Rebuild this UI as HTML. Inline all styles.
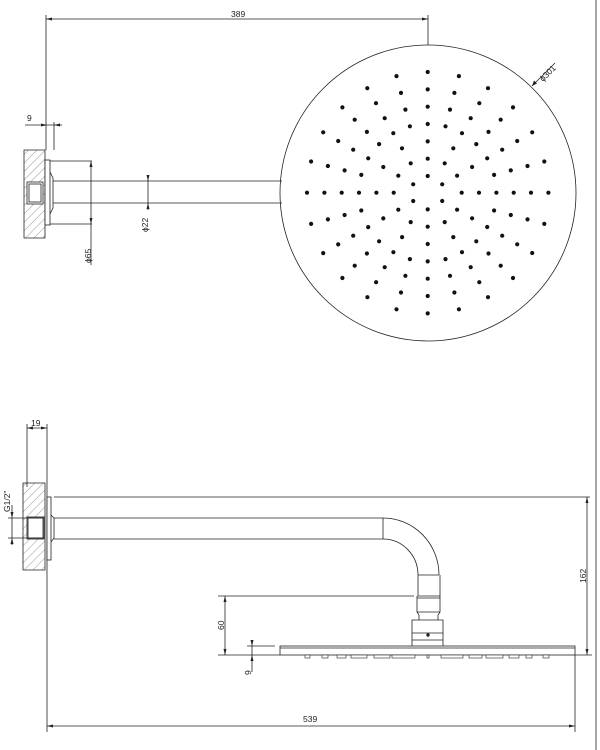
<!DOCTYPE html>
<html><head><meta charset="utf-8"><style>
html,body{margin:0;padding:0;background:#fff;}
svg{display:block;}
text{font-family:"Liberation Sans",sans-serif;font-size:8.5px;fill:#222;}
</style></head><body>
<svg id="s" width="600" height="750" viewBox="0 0 600 750" xmlns="http://www.w3.org/2000/svg">
<defs>
<pattern id="h" width="6" height="6" patternUnits="userSpaceOnUse" patternTransform="rotate(45)">
<line x1="0" y1="0" x2="0" y2="6" stroke="#555" stroke-width="0.6"/></pattern>
</defs>
<g stroke="#222" stroke-width="0.8" fill="none">
<line x1="46" y1="15" x2="46" y2="150"/>
<line x1="46" y1="19" x2="428" y2="19"/>
<line x1="428" y1="15" x2="428" y2="45"/>
<circle cx="428" cy="193" r="148"/>
<line x1="532" y1="86" x2="555" y2="63"/>
<line x1="54" y1="122" x2="54" y2="150"/>
<line x1="25" y1="125" x2="62" y2="125"/>
<path d="M24 150 H45 V238 H24 Z" fill="url(#h)"/>
<rect x="27" y="182" width="16" height="22" fill="#fff"/>
<rect x="29" y="184" width="12" height="18" fill="#fff"/>
<rect x="45" y="160" width="5" height="65" fill="#fff"/>
<path d="M50 172 L53 178 V208 L50 214"/>
<line x1="50" y1="161" x2="92" y2="161"/>
<line x1="50" y1="224" x2="92" y2="224"/>
<line x1="53" y1="181" x2="282" y2="181"/>
<line x1="53" y1="203" x2="282" y2="203"/>
<line x1="91" y1="161" x2="91" y2="265"/>
<line x1="148" y1="175" x2="148" y2="210"/>
<line x1="27" y1="424" x2="27" y2="487"/>
<line x1="47" y1="424" x2="47" y2="732"/>
<line x1="27" y1="428" x2="47" y2="428"/>
<path d="M23 483 H45 V570 H23 Z" fill="url(#h)"/>
<rect x="27" y="517" width="17" height="22" fill="#fff"/>
<rect x="28" y="518" width="15" height="20" fill="#fff"/>
<rect x="47" y="497" width="4" height="63" fill="#fff"/>
<path d="M51 515 L54 518 V538 L51 542"/>
<line x1="8" y1="518" x2="44" y2="518"/>
<line x1="8" y1="538" x2="44" y2="538"/>
<line x1="12" y1="505" x2="12" y2="545"/>
<line x1="54" y1="497" x2="590" y2="497"/>
<line x1="54" y1="518" x2="383" y2="518"/>
<line x1="54" y1="539" x2="383" y2="539"/>
<line x1="383" y1="518" x2="383" y2="539"/>
<path d="M383 518 A56 57 0 0 1 439 575"/>
<path d="M383 539 A35 36 0 0 1 418 575"/>
<line x1="418" y1="575" x2="439" y2="575"/>
<path d="M418 575 V596 H440 V575"/>
<path d="M417 596 V612 L419 615 V620 M440 596 V612 L438 615 V620 M417 598 H440 M417 612 H440"/>
<path d="M412 646 V620 H443 V646 M412 633 H443 M412 640 H443"/>
<circle cx="428" cy="635" r="1.3" fill="#222"/>
<rect x="280" y="646" width="295" height="9" fill="#fff"/>
<line x1="280" y1="648" x2="575" y2="648"/>
<line x1="218" y1="596" x2="414" y2="596"/>
<line x1="218" y1="655" x2="280" y2="655"/>
<line x1="225" y1="596" x2="225" y2="655"/>
<line x1="247" y1="646" x2="275" y2="646"/>
<line x1="252" y1="641" x2="252" y2="672"/>
<line x1="575" y1="655" x2="575" y2="732"/>
<line x1="575" y1="655" x2="592" y2="655"/>
<line x1="587" y1="497" x2="587" y2="655"/>
<line x1="47" y1="726" x2="575" y2="726"/>
<line x1="596" y1="0" x2="596" y2="750"/>
</g>
<g fill="#222">
<path d="M46 19 l6 -1.5 v3z"/><path d="M428 19 l-6 -1.5 v3z"/>
<path d="M532 86 l2 -5.5 l3 3z"/>
<path d="M47 125 l-6 -1.5 v3z"/><path d="M54 125 l6 -1.5 v3z"/>
<path d="M91 161 l-1.5 6 h3z"/><path d="M91 224 l-1.5 -6 h3z"/>
<path d="M148 181 l-1.5 -6 h3z"/><path d="M148 203 l-1.5 6 h3z"/>
<path d="M27 428 l6 -1.5 v3z"/><path d="M47 428 l-6 -1.5 v3z"/>
<path d="M12 518 l-1.5 -6 h3z"/><path d="M12 538 l-1.5 6 h3z"/>
<path d="M225 596 l-1.5 6 h3z"/><path d="M225 655 l-1.5 -6 h3z"/>
<path d="M252 646 l-1.5 -6 h3z"/><path d="M252 655 l-1.5 6 h3z"/>
<path d="M587 497 l-1.5 6 h3z"/><path d="M587 655 l-1.5 -6 h3z"/>
<path d="M47 726 l6 -1.5 v3z"/><path d="M575 726 l-6 -1.5 v3z"/>
</g>
<g fill="#fff" stroke="#222" stroke-width="0.6">
<rect x="305" y="655" width="5" height="3"/><rect x="322" y="655" width="6" height="3"/>
<rect x="337" y="655" width="9" height="3"/><rect x="351" y="655" width="16" height="3"/>
<rect x="374" y="655" width="16" height="3"/><rect x="392" y="655" width="23" height="3"/>
<rect x="427" y="655" width="2" height="3"/><rect x="441" y="655" width="22" height="3"/>
<rect x="469" y="655" width="13" height="3"/><rect x="486" y="655" width="17" height="3"/>
<rect x="509" y="655" width="10" height="3"/><rect x="526" y="655" width="6" height="3"/>
<rect x="543" y="655" width="6" height="3"/>
</g>
<g id="dots" fill="#111"></g>
<text x="231" y="17">389</text>
<text x="27" y="121">9</text>
<text x="31" y="426">19</text>
<text x="303" y="722">539</text>
<text transform="translate(91,263) rotate(-90)">ϕ65</text>
<text transform="translate(148,232) rotate(-90)">ϕ22</text>
<text transform="translate(543,82) rotate(-45)">ϕ301</text>
<text transform="translate(10,512) rotate(-90)">G1/2"</text>
<text transform="translate(224,630) rotate(-90)">60</text>
<text transform="translate(251,675) rotate(-90)">9</text>
<text transform="translate(586,583) rotate(-90)">162</text>
</svg>
<script>
var g=document.getElementById('dots'),cx=427.7,cy=192.7,s='';
var rings=[[16.7,6],[34,12],[51.3,12],[68.7,24],[86,24],[103.3,24],[120.7,24]];
rings.forEach(function(r){for(var i=0;i<r[1];i++){var a=i*2*Math.PI/r[1];
s+='<circle cx="'+(cx+r[0]*Math.sin(a)).toFixed(1)+'" cy="'+(cy-r[0]*Math.cos(a)).toFixed(1)+'" r="2.1"/>';}});
g.innerHTML=s;
</script>
</body></html>
